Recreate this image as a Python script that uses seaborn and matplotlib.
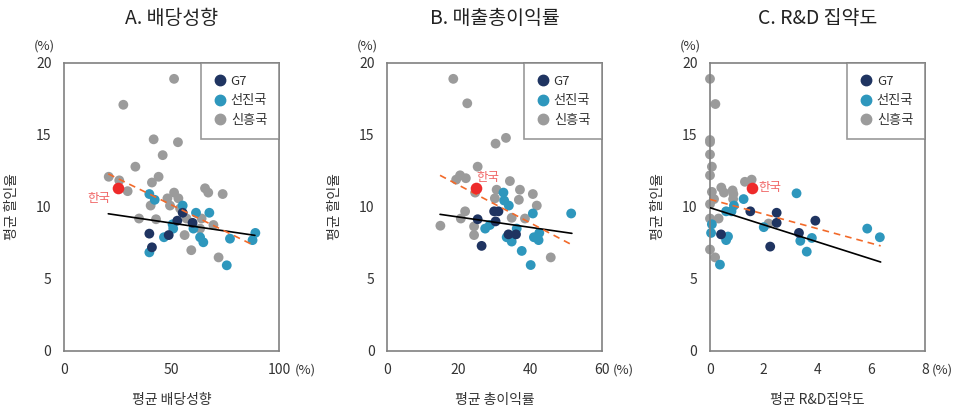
import matplotlib
matplotlib.use('Agg')
import matplotlib.pyplot as plt
from matplotlib.lines import Line2D
import pandas as pd
import seaborn as sns

groups = ['G7', '선진국', '신흥국']
colors = {'G7': '#1f3461', '선진국': '#2e97bd', '신흥국': '#9b9b9b'}

# A. 배당성향
a_g7_x = [55.2, 52.7, 59.8, 39.7, 48.7, 40.9]
a_g7_y = [9.6, 9.05, 8.9, 8.15, 8.05, 7.2]
a_adv_x = [39.7, 42.2, 55.2, 61.4, 67.6, 50.5, 50.8, 60.2, 46.5, 63.3, 64.8, 77.2, 89.0, 87.7, 39.7, 75.7]
a_adv_y = [10.9, 10.5, 10.1, 9.6, 9.6, 8.8, 8.5, 8.5, 7.9, 7.9, 7.55, 7.8, 8.2, 7.7, 6.85, 5.95]
a_emg_x = [51.2, 27.6, 41.7, 53.0, 45.9, 33.2, 20.8, 25.7, 44.0, 40.9, 29.6, 65.6, 67.1, 73.8, 40.3,
           51.2, 48.1, 53.2, 49.3, 54.0, 34.9, 42.8, 57.0, 64.0, 69.5, 63.3, 56.1, 59.2, 71.9]
a_emg_y = [18.9, 17.1, 14.7, 14.5, 13.6, 12.8, 12.1, 11.85, 12.1, 11.7, 11.1, 11.3, 11.0, 10.9, 10.1,
           11.0, 10.6, 10.6, 10.1, 9.9, 9.2, 9.15, 9.2, 9.2, 8.75, 8.5, 8.05, 7.0, 6.5]
a_korea = (25.1, 11.3)
a_fit_all = ([20.6, 88.8], [9.53, 8.03])
a_fit_dash = ([20.6, 88.8], [12.3, 7.3])

# B. 매출총이익률
b_g7_x = [29.9, 31.1, 25.3, 30.3, 33.9, 36.0, 26.4]
b_g7_y = [9.7, 9.7, 9.15, 9.0, 8.1, 8.1, 7.3]
b_adv_x = [32.5, 32.7, 34.0, 40.7, 51.4, 28.7, 27.4, 36.2, 42.5, 41.0, 42.3, 33.4, 34.8, 37.6, 40.1]
b_adv_y = [11.0, 10.45, 10.1, 9.55, 9.55, 8.75, 8.5, 8.5, 8.2, 7.9, 7.7, 7.9, 7.6, 6.95, 5.97]
b_emg_x = [18.5, 22.4, 33.2, 30.3, 25.3, 20.4, 19.3, 22.0, 34.3, 37.1, 40.7, 30.6, 24.6, 30.1, 36.8,
           41.8, 21.8, 20.6, 14.9, 24.3, 24.3, 34.8, 38.5, 45.7]
b_emg_y = [18.9, 17.2, 14.8, 14.4, 12.8, 12.2, 11.9, 12.0, 11.8, 11.2, 10.9, 11.2, 11.0, 10.6, 10.5,
           10.1, 9.7, 9.2, 8.7, 8.65, 8.05, 9.25, 9.2, 6.5]
b_korea = (24.8, 11.35)
b_fit_all = ([14.8, 51.6], [9.49, 8.17])
b_fit_dash = ([14.8, 51.4], [12.2, 7.4])

# C. R&D 집약도
c_g7_x = [1.5, 2.48, 2.48, 3.92, 3.31, 0.41, 2.24]
c_g7_y = [9.7, 9.6, 8.9, 9.05, 8.2, 8.1, 7.25]
c_adv_x = [3.22, 1.25, 0.89, 0.8, 0.6, 0.07, 0.04, 0.67, 0.6, 2.0, 3.36, 3.79, 3.6, 5.85, 6.32, 0.37]
c_adv_y = [10.95, 10.55, 10.1, 9.7, 9.7, 8.8, 8.2, 7.95, 7.7, 8.6, 7.65, 7.85, 6.9, 8.5, 7.9, 6.0]
c_emg_x = [0.0, 0.2, 0.0, 0.0, 0.0, 0.07, 0.0, 0.07, 0.15, 0.42, 0.52, 0.84, 0.87, 0.86, 1.3,
           1.55, 0.0, 0.0, 0.32, 0.0, 0.19, 2.18]
c_emg_y = [18.9, 17.15, 14.65, 14.5, 13.65, 12.8, 12.2, 11.05, 10.55, 11.35, 11.0, 11.15, 10.9, 10.55, 11.75,
           11.9, 10.2, 9.2, 9.2, 7.05, 6.5, 8.85]
c_korea = (1.55, 11.35)
c_fit_all = ([0.0, 6.35], [9.95, 6.18])
c_fit_dash = ([0.0, 6.35], [10.53, 7.3])

titles = ['A. 배당성향', 'B. 매출총이익률', 'C. R&D 집약도']
xlabels = ['평균 배당성향', '평균 총이익률', '평균 R&D집약도']
ylabel = '평균 할인율'
xticks = [[0, 50, 100], [0, 20, 40, 60], [0, 2, 4, 6, 8]]
yticks = [0, 5, 10, 15, 20]

sns.set_style('white')
plt.rcParams['font.family'] = ['Noto Sans CJK KR', 'DejaVu Sans']

fig = plt.figure(figsize=(9.57, 4.12), dpi=100)
lefts = [64, 387, 710]

panels = [
    (a_g7_x, a_g7_y, a_adv_x, a_adv_y, a_emg_x, a_emg_y, a_korea, a_fit_all, a_fit_dash),
    (b_g7_x, b_g7_y, b_adv_x, b_adv_y, b_emg_x, b_emg_y, b_korea, b_fit_all, b_fit_dash),
    (c_g7_x, c_g7_y, c_adv_x, c_adv_y, c_emg_x, c_emg_y, c_korea, c_fit_all, c_fit_dash),
]
korea_offsets = [((-14, -7), 'center'), ((9, 7.5), 'center'), ((5, 0), 'left')]
pct_offsets = [11, 8, 5]

for i, (g7x, g7y, advx, advy, emgx, emgy, korea, fit_all, fit_dash) in enumerate(panels):
    ax = fig.add_axes([lefts[i] / 957, 61 / 412, 215 / 957, 288 / 412])

    # gray first so G7 ends up on top
    df = pd.concat([
        pd.DataFrame({'x': emgx, 'y': emgy, 'group': '신흥국'}),
        pd.DataFrame({'x': advx, 'y': advy, 'group': '선진국'}),
        pd.DataFrame({'x': g7x, 'y': g7y, 'group': 'G7'}),
    ], ignore_index=True)
    sns.scatterplot(data=df, x='x', y='y', hue='group', hue_order=groups, palette=colors,
                    s=50, linewidth=0, alpha=1, ax=ax, legend=False, clip_on=False, zorder=2)

    # trend lines
    ax.plot(fit_all[0], fit_all[1], color='black', lw=1.2, zorder=3)
    ax.plot(fit_dash[0], fit_dash[1], color='#f26a2a', lw=1.2, ls=(0, (4, 3)), zorder=3)

    ax.scatter([korea[0]], [korea[1]], s=70, color='#ee2a2a', linewidth=0, zorder=4)
    off, ha = korea_offsets[i]
    ax.annotate('한국', korea, xytext=off, textcoords='offset points', ha=ha, va='center',
                fontsize=9, color='#f06565')

    ax.set_xlim(0, xticks[i][-1])
    ax.set_ylim(0, 20)
    ax.set_xticks(xticks[i])
    ax.set_yticks(yticks)
    ax.tick_params(length=0, labelsize=10, labelcolor='#333333', pad=9)
    for sp in ax.spines.values():
        sp.set_color('#808080')
        sp.set_linewidth(1.2)

    ax.set_xlabel(xlabels[i], fontsize=10, color='#333333')
    ax.xaxis.set_label_coords(0.5, -0.145)
    ax.set_ylabel(ylabel, fontsize=10, color='#333333')
    ax.yaxis.set_label_coords(-0.21, 0.5)

    ax.text(0.5, 1.156, titles[i], transform=ax.transAxes, ha='center', va='center',
            fontsize=14, color='#222222')
    ax.text(-0.093, 1.059, '(%)', transform=ax.transAxes, ha='center', va='center',
            fontsize=9.5, color='#333333')
    ax.annotate('(%)', (1.0, 0), xycoords='axes fraction', xytext=(pct_offsets[i], -13.5),
                textcoords='offset points', ha='left', va='center', fontsize=9.5, color='#333333')

    handles = [Line2D([], [], marker='o', ls='', color=colors[g], markersize=7.5) for g in groups]
    leg = ax.legend(handles, groups, loc='upper right', borderaxespad=0, frameon=True, fancybox=False,
                    fontsize=9.5, handlelength=1.0, handletextpad=0.35, borderpad=0.9, labelspacing=0.5)
    leg.get_frame().set_edgecolor('#808080')
    leg.get_frame().set_linewidth(1.2)
    for t in leg.get_texts():
        t.set_color('#333333')

fig.savefig('out.png', dpi=100, facecolor='white')
